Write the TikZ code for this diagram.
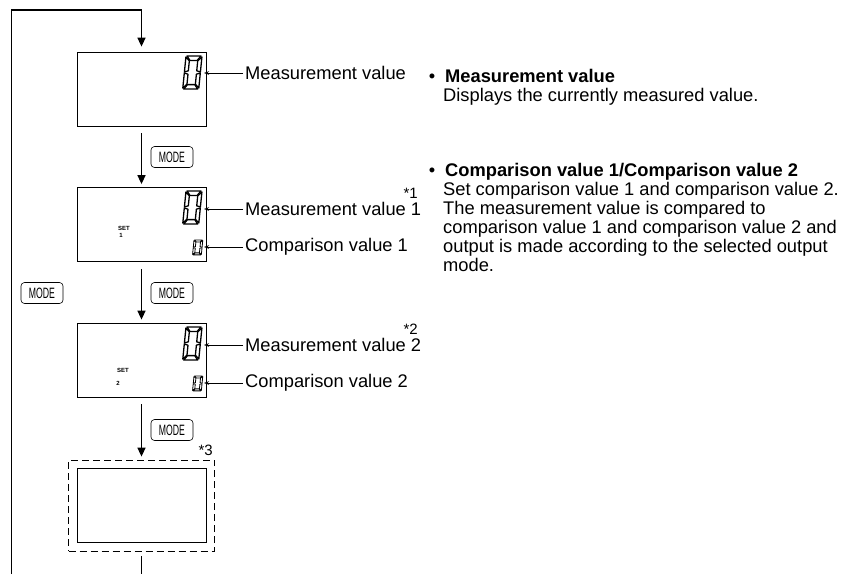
\documentclass[tikz,border=0pt]{standalone}
\usepackage{fontspec}
\setmainfont{Liberation Sans}
\usetikzlibrary{positioning, arrows.meta}

\tikzset{
  lcd/.style={draw, line width=0.8pt, minimum width=129pt, minimum height=74pt, inner sep=0pt},
  modekey/.style={draw, rounded corners=3.5pt, line width=0.6pt, minimum width=42pt, minimum height=21pt, inner sep=0pt, font=\fontsize{15}{15}\selectfont},
  flow/.style={line width=1.5pt, -{Triangle[length=9pt,width=8pt]}, shorten <=7pt, shorten >=3pt},
  loopline/.style={line width=1.5pt},
  pointer/.style={line width=0.6pt, -{Stealth[length=5pt,width=3.5pt]}},
  lbl/.style={font=\fontsize{18.3}{19}\selectfont, inner sep=2pt, anchor=west},
  txt/.style={font=\fontsize{18.3}{19}\selectfont, inner sep=0pt},
  head/.style={txt, font=\fontsize{18.3}{19}\selectfont\bfseries, anchor=base west},
  star/.style={font=\fontsize{15}{15}\selectfont, inner sep=0pt},
  settxt/.style={font=\fontsize{6}{6}\selectfont\bfseries, inner sep=0pt},
  seg/.style={draw, fill=white, line join=round},
  digit/.pic={
    \path[seg] (1,0) -- (15,0) -- (11.6,4.4) -- (4.4,4.4) -- cycle;
    \path[seg] (1,33) -- (15,33) -- (11.6,28.6) -- (4.4,28.6) -- cycle;
    \path[seg] (0,1) -- (3.8,4.8) -- (3.8,14.8) -- (0,16) -- cycle;
    \path[seg] (16,1) -- (12.2,4.8) -- (12.2,14.8) -- (16,16) -- cycle;
    \path[seg] (0,17) -- (3.8,18.2) -- (3.8,28.2) -- (0,32) -- cycle;
    \path[seg] (16,17) -- (12.2,18.2) -- (12.2,28.2) -- (16,32) -- cycle;
  }
}

\begin{document}
\begin{tikzpicture}[x=1pt, y=-1pt]
  \useasboundingbox (0,0) rectangle (850,574);

  \node[lcd] (d1) at (141.5,89) {};
  \node[lcd] (d2) at (141.5,224.5) {};
  \node[lcd] (d3) at (141.5,360) {};
  \node[lcd] (d4) at (141.5,505.5) {};
  \node[draw, dash pattern=on 7pt off 4pt, line width=0.8pt, minimum width=146pt, minimum height=91pt] (d4x) at (141.5,505.5) {};

  \pic[xslant=0.1, line width=1.3pt] at (186,56) {digit};
  \pic[xslant=0.1, line width=1.3pt] at (186,191) {digit};
  \pic[xslant=0.1, line width=0.8pt, xscale=0.55, yscale=0.45] at (194,240) {digit};
  \pic[xslant=0.1, line width=1.3pt] at (186,327) {digit};
  \pic[xslant=0.1, line width=0.8pt, xscale=0.55, yscale=0.45] at (194,376) {digit};

  \node[settxt] (s1) at (124,228) {SET};
  \node[settxt] (s1n) at (121,235) {1};
  \node[settxt] (s2) at (123,370) {SET};
  \node[settxt] (s2n) at (118,383) {2};

  \coordinate (top) at (141.5,10);
  \coordinate (lt) at (11.5,10);
  \coordinate (lb) at (11.5,574);
  \coordinate (bot) at (141.5,574);

  \draw[loopline, -{Triangle[length=9pt,width=8pt]}, shorten >=5pt] (lb) -- (lt) -- (top) -- (d1.north);
  \draw[flow] (d1) -- (d2);
  \draw[flow] (d2) -- (d3);
  \draw[flow] (d3) -- (d4x);
  \draw[loopline, shorten <=5pt] (d4x.south) -- (bot);

  \node[modekey] (k1) at (172,157) {\scalebox{0.58}[1]{MODE}};
  \node[modekey] (k2) at (172,293) {\scalebox{0.58}[1]{MODE}};
  \node[modekey] (k3) at (172,430) {\scalebox{0.58}[1]{MODE}};
  \node[modekey] (k0) at (42,293) {\scalebox{0.58}[1]{MODE}};

  \coordinate (p1) at (204,73);
  \coordinate (p2) at (204,209);
  \coordinate (p3) at (204,247);
  \coordinate (p4) at (204,345);
  \coordinate (p5) at (204,383);
  \node[lbl] (l1) at (243,73) {Measurement value};
  \node[lbl] (l2) at (243,209) {Measurement value 1};
  \node[lbl] (l3) at (243,247) {Comparison value 1};
  \node[lbl] (l4) at (243,345) {Measurement value 2};
  \node[lbl] (l5) at (243,383) {Comparison value 2};
  \draw[pointer] (l1.west) -- (p1);
  \draw[pointer] (l2.west) -- (p2);
  \draw[pointer] (l3.west) -- (p3);
  \draw[pointer] (l4.west) -- (p4);
  \draw[pointer] (l5.west) -- (p5);

  \node[star, anchor=east] (n1) at (418,193) {*1};
  \node[star, anchor=east] (n2) at (418,329) {*2};
  \node[star, anchor=east] (n3) at (213,450) {*3};

  \node[txt, anchor=base] (b1) at (432,82.5) {\textbullet};
  \node[head] (h1) at (445,82.5) {Measurement value};
  \node[txt, align=left, anchor=north west] (t1) at (443,88) {Displays the currently measured value.};

  \node[txt, anchor=base] (b2) at (432,176.5) {\textbullet};
  \node[head] (h2) at (445,176.5) {Comparison value 1/Comparison value 2};
  \node[txt, align=left, anchor=north west] (t2) at (443,182) {Set comparison value 1 and comparison value 2.\\
    The measurement value is compared to\\
    comparison value 1 and comparison value 2 and\\
    output is made according to the selected output\\
    mode.};
\end{tikzpicture}
\end{document}
